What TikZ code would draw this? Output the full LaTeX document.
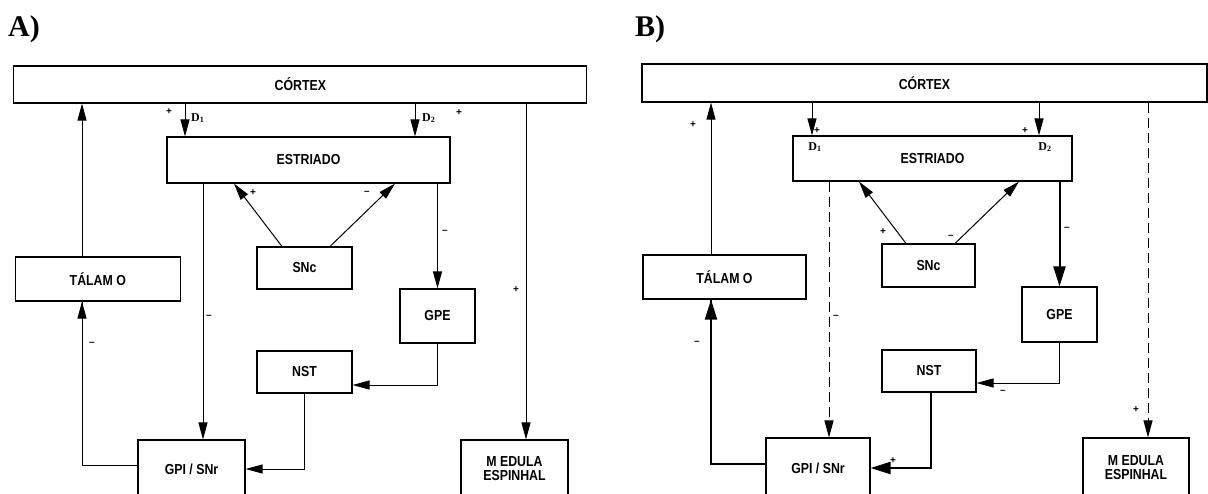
\documentclass[tikz,border=0pt]{standalone}
\usepackage{fontspec}
\setmainfont{Liberation Serif}
\newfontfamily\boxfont[FakeStretch=0.85]{Liberation Sans}
\newfontfamily\labfont{Liberation Sans}
\usetikzlibrary{arrows.meta,calc}
\begin{document}
\begin{tikzpicture}[x=1pt,y=-1pt,
  box/.style={draw, line width=1.1pt, inner sep=0pt, align=center,
    font=\boxfont\bfseries\fontsize{14.5}{15}\selectfont},
  arr/.style={line width=1pt, -{Triangle[length=17pt,width=9pt]}},
  arrk/.style={line width=2pt, -{Triangle[length=20pt,width=12pt]}},
  dsh/.style={line width=1pt, dash pattern=on 10pt off 5pt, -{Triangle[length=17pt,width=9pt]}},
  lab/.style={inner sep=0pt, font=\labfont\bfseries\fontsize{10}{11}\selectfont},
  dlab/.style={inner sep=0pt, font=\fontsize{12}{13}\selectfont\bfseries},
  panel/.style={inner sep=0pt, anchor=base west, font=\fontsize{30}{32}\selectfont\bfseries}]
\fill[white] (0,0) rectangle (1208,493);
\useasboundingbox (0,0) rectangle (1208,493);
\clip (0,0) rectangle (1208,493);

% ---------------- Panel A ----------------
\node[panel] (lA) at (8,36) {A)};
\node[box, minimum width=573pt, minimum height=37pt] (cortexA) at (300.3,84.5) {CÓRTEX};
\node[box, minimum width=283pt, minimum height=46pt] (estA) at (308.5,160) {ESTRIADO};
\node[box, minimum width=164.5pt, minimum height=44pt] (talA) at (97.8,279) {TÁLAM O};
\node[box, minimum width=95pt, minimum height=42pt] (sncA) at (304.5,268) {SNc};
\node[box, minimum width=75pt, minimum height=54pt] (gpeA) at (437.5,316) {GPE};
\node[box, minimum width=95pt, minimum height=42pt] (nstA) at (304.5,372) {NST};
\node[box, minimum width=107pt, minimum height=58pt] (gpiA) at (191.5,469) {GPI / SNr};
\node[box, minimum width=107pt, minimum height=58pt] (medA) at (514.5,469) {M EDULA\\[-1pt]ESPINHAL};

\coordinate (xa1) at (82,0);
\coordinate (xa2) at (185,0);
\coordinate (xa3) at (415,0);
\coordinate (xa4) at (526,0);
\coordinate (xa5) at (203,0);
\coordinate (xs1) at (282,0);
\coordinate (xs2) at (234,0);
\coordinate (xs3) at (330,0);
\coordinate (xs4) at (395,0);

\draw[arr] (xa1 |- talA.north) -- (xa1 |- cortexA.south);
\draw[arr] (xa2 |- cortexA.south) -- (xa2 |- estA.north);
\draw[arr] (xa3 |- cortexA.south) -- (xa3 |- estA.north);
\draw[arr] (xa4 |- cortexA.south) -- (xa4 |- medA.north);
\draw[arr] (xs1 |- sncA.north) -- (xs2 |- estA.south);
\draw[arr] (xs3 |- sncA.north) -- (xs4 |- estA.south);
\draw[arr] (xa5 |- estA.south) -- (xa5 |- gpiA.north);
\draw[arr] (gpeA.north |- estA.south) -- (gpeA.north);
\draw[arr] (gpeA.south) |- ([yshift=-13pt]nstA.east);
\draw[arr] (nstA.south) |- (gpiA.east);
\draw[line width=1pt] ([yshift=4pt]gpiA.west) -| (xa1 |- talA.south);
\draw[arr] ($(xa1 |- gpiA.west)+(0,-4)$) -- (xa1 |- talA.south);

\node[lab] (a1) at (169,112) {+};
\node[dlab, anchor=west] (a2) at (191,118) {D\textsubscript{1}};
\node[dlab, anchor=west] (a3) at (422,118) {D\textsubscript{2}};
\node[lab] (a4) at (459,113) {+};
\node[lab] (a5) at (253,193) {+};
\node[lab] (a6) at (367,193) {–};
\node[lab] (a7) at (445,232) {–};
\node[lab] (a8) at (516,290) {+};
\node[lab] (a9) at (209,317) {–};
\node[lab] (a10) at (92,344) {–};

% ---------------- Panel B ----------------
\node[panel] (lB) at (635,36) {B)};
\node[box, minimum width=565pt, minimum height=38pt] (cortexB) at (924.5,83) {CÓRTEX};
\node[box, minimum width=279pt, minimum height=45pt] (estB) at (932.5,158.5) {ESTRIADO};
\node[box, minimum width=163pt, minimum height=44pt] (talB) at (724.5,277) {TÁLAM O};
\node[box, minimum width=93pt, minimum height=43pt] (sncB) at (928.5,265.5) {SNc};
\node[box, minimum width=75pt, minimum height=55pt] (gpeB) at (1059.5,314.5) {GPE};
\node[box, minimum width=94pt, minimum height=42pt] (nstB) at (929,371) {NST};
\node[box, minimum width=104pt, minimum height=60pt] (gpiB) at (818,468) {GPI / SNr};
\node[box, minimum width=106pt, minimum height=60pt] (medB) at (1136,468) {M EDULA\\[-1pt]ESPINHAL};

\coordinate (xb1) at (711,0);
\coordinate (xb2) at (812,0);
\coordinate (xb3) at (1039,0);
\coordinate (xb4) at (1148,0);
\coordinate (xb5) at (829,0);
\coordinate (xt1) at (906,0);
\coordinate (xt2) at (859,0);
\coordinate (xt3) at (955,0);
\coordinate (xt4) at (1019,0);
\coordinate (xb6) at (931,0);

\draw[arr] (xb1 |- talB.north) -- (xb1 |- cortexB.south);
\draw[arr] (xb2 |- cortexB.south) -- (xb2 |- estB.north);
\draw[arr] (xb3 |- cortexB.south) -- (xb3 |- estB.north);
\draw[dsh] (xb4 |- cortexB.south) -- (xb4 |- medB.north);
\draw[arr] (xt1 |- sncB.north) -- (xt2 |- estB.south);
\draw[arr] (xt3 |- sncB.north) -- (xt4 |- estB.south);
\draw[dsh] (xb5 |- estB.south) -- (xb5 |- gpiB.north);
\draw[arrk] (gpeB.north |- estB.south) -- (gpeB.north);
\draw[arr] (gpeB.south) |- ([yshift=-12pt]nstB.east);
\draw[arrk] (xb6 |- nstB.south) |- (gpiB.east);
\draw[line width=2pt] ([yshift=4pt]gpiB.west) -| (xb1 |- talB.south);
\draw[arrk] ($(xb1 |- gpiB.west)+(0,-4)$) -- (xb1 |- talB.south);

\node[lab] (b1) at (693,125) {+};
\node[lab] (b2) at (817,131) {+};
\node[dlab] (b3) at (815,147) {D\textsubscript{1}};
\node[lab] (b4) at (1025,131) {+};
\node[dlab] (b5) at (1045,147) {D\textsubscript{2}};
\node[lab] (b6) at (883,232) {+};
\node[lab] (b7) at (951,237) {–};
\node[lab] (b8) at (1067,229) {–};
\node[lab] (b9) at (836,317) {–};
\node[lab] (b10) at (697,343) {–};
\node[lab] (b11) at (1003,392) {–};
\node[lab] (b12) at (893,461) {+};
\node[lab] (b13) at (1136,410) {+};
\end{tikzpicture}
\end{document}
